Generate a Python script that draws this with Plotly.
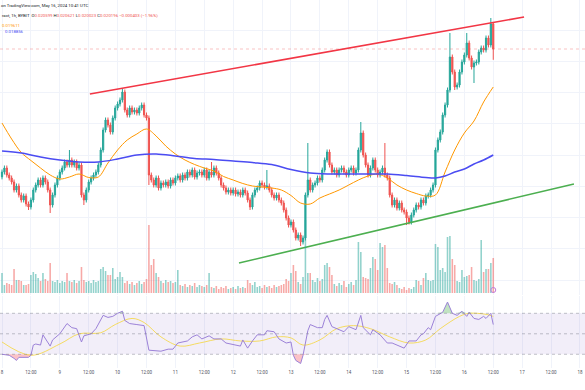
import plotly.graph_objects as go
import pandas as pd

# ---------------- data (hourly candles, BYBIT 1h) ----------------
start_time = "2024-05-08 00:00"
n_candles = 205
times = pd.date_range(start_time, periods=n_candles, freq="h")

open_first = 0.018150
close = [
 0.018228,0.018292,0.018180,0.018132,0.018068,0.017940,0.018004,0.017860,0.017780,0.017844,
 0.017716,0.017668,0.017780,0.017940,0.018020,0.018100,0.018020,0.018132,0.018068,0.017940,
 0.017700,0.017860,0.018020,0.018132,0.018228,0.018292,0.018388,0.018340,0.018420,0.018340,
 0.018388,0.018292,0.018340,0.017860,0.017780,0.017940,0.018068,0.018132,0.018180,0.018228,
 0.018340,0.018580,0.018900,0.019060,0.018980,0.018868,0.019092,0.019252,0.019316,0.019380,
 0.019508,0.019220,0.019140,0.019252,0.019188,0.019220,0.019172,0.019252,0.019300,0.019140,
 0.019092,0.018180,0.018100,0.018020,0.018132,0.017972,0.018052,0.018020,0.018068,0.018004,
 0.018100,0.018052,0.018132,0.018164,0.018100,0.018180,0.018132,0.018228,0.018180,0.018260,
 0.018148,0.018212,0.018228,0.018180,0.018260,0.018132,0.018228,0.018180,0.018292,0.018212,
 0.018132,0.018020,0.017972,0.017908,0.017940,0.017892,0.017940,0.017876,0.017908,0.017860,
 0.017940,0.017892,0.017780,0.017668,0.017860,0.017940,0.017972,0.018052,0.018020,0.017988,
 0.018004,0.017940,0.017860,0.017812,0.017860,0.017780,0.017732,0.017620,0.017492,0.017380,
 0.017428,0.017300,0.017172,0.017220,0.017108,0.017172,0.017860,0.018100,0.017940,0.018020,
 0.018052,0.018132,0.018100,0.018260,0.018420,0.018548,0.018340,0.018228,0.018260,0.018180,
 0.018260,0.018292,0.018228,0.018180,0.018260,0.018292,0.018212,0.018260,0.018580,0.018852,
 0.018500,0.018340,0.018180,0.018292,0.018420,0.018260,0.018180,0.018228,0.018292,0.018180,
 0.018132,0.017860,0.017700,0.017780,0.017652,0.017732,0.017620,0.017588,0.017492,0.017428,
 0.017540,0.017620,0.017700,0.017668,0.017780,0.017732,0.017844,0.017860,0.017940,0.018020,
 0.018580,0.018740,0.018868,0.019140,0.019300,0.019540,0.020068,0.019828,0.019588,0.019620,
 0.019828,0.019988,0.020100,0.020292,0.020052,0.019908,0.019972,0.019988,0.020148,0.020212,
 0.020180,0.020372,0.020260,0.020599,0.020196]
high = [
 0.018268,0.018332,0.018332,0.018220,0.018172,0.018108,0.018044,0.018044,0.017900,0.017884,
 0.017884,0.017756,0.017820,0.017980,0.018060,0.018140,0.018140,0.018172,0.018172,0.018108,
 0.017980,0.017900,0.018060,0.018172,0.018268,0.018332,0.018428,0.018428,0.018580,0.018460,
 0.018428,0.018428,0.018380,0.018380,0.017900,0.017980,0.018108,0.018172,0.018220,0.018268,
 0.018380,0.018620,0.018940,0.019100,0.019100,0.019020,0.019132,0.019292,0.019356,0.019420,
 0.019572,0.019548,0.019260,0.019292,0.019292,0.019260,0.019260,0.019292,0.019340,0.019340,
 0.019180,0.019132,0.018220,0.018140,0.018172,0.018172,0.018092,0.018092,0.018108,0.018108,
 0.018140,0.018140,0.018172,0.018204,0.018204,0.018220,0.018220,0.018268,0.018268,0.018300,
 0.018300,0.018252,0.018268,0.018268,0.018300,0.018300,0.018268,0.018388,0.018332,0.018332,
 0.018252,0.018172,0.018060,0.018012,0.017980,0.017980,0.017980,0.017980,0.017948,0.017948,
 0.017980,0.017980,0.017932,0.017820,0.017900,0.017980,0.018012,0.018092,0.018092,0.018060,
 0.018260,0.018044,0.017980,0.017900,0.017900,0.017900,0.017820,0.017772,0.017660,0.017532,
 0.017468,0.017468,0.017340,0.017260,0.017260,0.017212,0.017900,0.018692,0.018140,0.018060,
 0.018092,0.018172,0.018172,0.018300,0.018460,0.018588,0.018588,0.018380,0.018300,0.018300,
 0.018300,0.018332,0.018332,0.018268,0.018300,0.018332,0.018332,0.018300,0.018620,0.019028,
 0.018892,0.018540,0.018380,0.018332,0.018460,0.018460,0.018300,0.018268,0.018332,0.018692,
 0.018220,0.018172,0.017900,0.017820,0.017820,0.017772,0.017772,0.017660,0.017628,0.017532,
 0.017580,0.017660,0.017740,0.017740,0.017820,0.017820,0.017884,0.017900,0.017980,0.018060,
 0.018620,0.018780,0.018908,0.019180,0.019340,0.019580,0.020452,0.020108,0.019868,0.019660,
 0.019868,0.020028,0.020140,0.020452,0.020332,0.020092,0.020012,0.020028,0.020188,0.020252,
 0.020252,0.020412,0.020412,0.020692,0.020621]
low = [
 0.018110,0.018188,0.018140,0.018092,0.018028,0.017900,0.017900,0.017820,0.017740,0.017740,
 0.017676,0.017620,0.017628,0.017740,0.017900,0.017980,0.017980,0.017980,0.018028,0.017900,
 0.017572,0.017660,0.017820,0.017980,0.018092,0.018188,0.018252,0.018300,0.018300,0.018300,
 0.018300,0.018252,0.018252,0.017820,0.017700,0.017740,0.017900,0.018028,0.018092,0.018140,
 0.018188,0.018300,0.018540,0.018860,0.018940,0.018828,0.018828,0.019052,0.019212,0.019276,
 0.019340,0.019180,0.019100,0.019100,0.019148,0.019148,0.019132,0.019132,0.019212,0.019100,
 0.019052,0.018020,0.018060,0.017980,0.017980,0.017932,0.017932,0.017980,0.017980,0.017964,
 0.017964,0.018012,0.018012,0.018092,0.018060,0.018060,0.018092,0.018092,0.018140,0.018140,
 0.018108,0.018108,0.018172,0.018140,0.018140,0.018092,0.018092,0.018140,0.018140,0.018172,
 0.018092,0.017980,0.017932,0.017868,0.017868,0.017852,0.017852,0.017836,0.017836,0.017820,
 0.017820,0.017852,0.017740,0.017620,0.017628,0.017820,0.017900,0.017932,0.017980,0.017948,
 0.017948,0.017900,0.017820,0.017772,0.017772,0.017740,0.017692,0.017580,0.017452,0.017340,
 0.017340,0.017260,0.017132,0.017132,0.017044,0.017068,0.017132,0.017820,0.017900,0.017900,
 0.017980,0.018012,0.018060,0.018060,0.018220,0.018380,0.018300,0.018188,0.018188,0.018140,
 0.018140,0.018220,0.018188,0.018140,0.018140,0.018220,0.018172,0.018172,0.018220,0.018540,
 0.018460,0.018300,0.018140,0.018140,0.018252,0.018220,0.018140,0.018140,0.018188,0.018140,
 0.018092,0.017820,0.017660,0.017660,0.017612,0.017612,0.017580,0.017548,0.017380,0.017388,
 0.017388,0.017500,0.017580,0.017628,0.017628,0.017692,0.017692,0.017804,0.017820,0.017900,
 0.017980,0.018540,0.018700,0.018828,0.019100,0.019260,0.019500,0.019788,0.019540,0.019548,
 0.019580,0.019788,0.019948,0.020060,0.020012,0.019868,0.019652,0.019932,0.019948,0.020108,
 0.020140,0.020140,0.020220,0.020220,0.020023]
volume_m = [
 2.0,0.8,1.0,0.9,0.8,2.4,1.3,1.3,1.2,0.8,
 0.8,0.9,1.8,2.1,1.9,1.5,1.2,2.0,1.4,1.2,
 3.0,1.2,1.1,1.3,1.0,1.2,1.1,2.0,1.2,1.1,
 1.3,1.0,1.2,2.6,1.3,1.1,1.2,1.0,1.3,1.1,
 1.2,2.4,2.6,2.2,1.8,1.8,2.5,1.4,1.6,2.1,
 1.6,1.0,1.2,0.9,1.1,0.8,1.0,1.2,0.9,1.1,
 1.4,6.8,2.8,3.4,2.0,1.6,1.2,1.0,1.3,1.1,
 1.2,1.0,1.1,2.3,0.8,0.7,0.9,0.6,0.8,0.7,
 1.0,0.6,0.8,0.7,0.6,0.8,2.0,0.6,0.5,0.7,
 0.4,0.6,0.5,0.7,0.4,0.5,0.6,0.4,0.7,0.5,
 0.6,0.5,1.3,1.0,0.8,1.1,0.6,0.7,0.5,0.8,
 0.6,0.7,0.5,0.8,0.6,0.7,0.8,0.9,1.4,1.2,
 2.0,2.8,2.2,1.1,0.9,1.6,7.3,2.0,2.0,1.3,
 1.1,1.5,1.2,1.4,2.8,3.0,2.6,1.8,0.9,0.7,
 1.0,0.8,1.2,0.6,0.9,1.1,0.8,1.3,5.1,4.1,
 1.6,1.5,1.4,2.5,3.6,3.4,2.3,5.0,4.6,4.8,
 2.5,1.0,0.9,1.1,0.8,0.5,0.4,0.6,0.3,0.5,
 0.4,0.6,1.3,1.2,0.8,1.5,2.0,1.3,1.2,1.3,
 4.9,4.6,2.3,2.5,2.1,5.6,5.7,3.4,2.8,1.2,
 1.1,2.3,1.6,1.7,1.8,2.6,1.3,1.2,1.4,5.3,
 2.1,2.4,2.4,3.0,3.5]

# moving averages (candle index, price)
ma_fast_idx = list(range(0, 205, 4))
ma_fast = [0.019012,0.018756,0.018540,0.018412,0.018292,0.018180,0.018116,0.018148,0.018196,0.018140,
           0.018148,0.018372,0.018580,0.018740,0.018836,0.018916,0.018804,0.018644,0.018516,0.018420,
           0.018348,0.018292,0.018244,0.018156,0.018100,0.018044,0.018004,0.017988,0.017972,0.017940,
           0.017852,0.017732,0.017716,0.017812,0.017876,0.017940,0.018020,0.018100,0.018164,0.018196,
           0.018132,0.018020,0.017940,0.017884,0.017844,0.017860,0.018228,0.018580,0.018852,0.019044,
           0.019348,0.019588]
ma_slow_idx = list(range(0, 177, 8)) + [180, 184, 188, 192, 196, 200, 204]
ma_slow = [0.018564,0.018532,0.018468,0.018420,0.018388,0.018388,0.018436,0.018500,0.018516,0.018484,
           0.018444,0.018428,0.018404,0.018380,0.018348,0.018268,0.018212,0.018196,0.018196,0.018196,
           0.018196,0.018172,0.018140,0.018132,0.018164,0.018228,0.018276,0.018356,0.018420,0.018500]

rsi_idx = [0,3,5,6,7,11,12,13,14,16,17,20,21,24,27,29,31,33,34,37,39,42,44,46,48,50,51,53,56,59,
           61,64,66,69,71,73,77,79,81,83,86,88,91,93,97,99,100,102,104,106,109,110,113,115,118,120,
           121,122,124,125,127,128,131,133,134,135,137,139,142,144,147,149,150,153,154,157,160,162,
           165,167,169,172,174,175,177,178,180,183,185,187,189,191,193,194,196,198,200,201,203,204]
rsi_val = [30,29,26,24,27,27,29,39,40,39,49,38,44,50,60,56,55,42,48,50,55,68,66,67,70,72,63,60,59,58,
           34,33,33,35,35,41,43,47,49,45,48,45,45,41,39,38,44,36,43,49,49,53,52,45,41,42,
           29,24,21,29,53,59,56,56,64,68,57,55,52,57,54,68,56,49,54,49,41,41,
           38,36,43,43,49,50,56,54,67,71,81,70,68,72,67,71,65,64,67,65,70,59]
rsi_ma_idx = [0,12,24,32,41,47,54,59,66,74,82,91,99,107,114,120,125,132,139,146,153,161,169,176,182,190,194,201,204]
rsi_ma_val = [42,29,40,50,51,59,65,61,47,38,41,45,43,43,47,46,39,44,55,58,55,47,41,44,55,67,70,69,67]

# drawn trend lines (time, price)
res_t = ["2024-05-09 12:30", "2024-05-17 00:48"]
res_p = [0.019476, 0.020708]
sup_t = ["2024-05-12 02:25", "2024-05-17 21:30"]
sup_p = [0.016772, 0.018036]

tick_vals = pd.date_range("2024-05-08", "2024-05-18", freq="12h")
tick_text = ["8","12:00","9","12:00","10","12:00","11","12:00","12","12:00",
             "13","12:00","14","12:00","15","12:00","16","12:00","17","12:00","18"]

last = dict(o=0.020599, h=0.020621, l=0.020023, c=0.020196, chg="−0.000403 (−1.96%)")
ma_fast_label = "0.019611"
ma_slow_label = "0.018856"

# ---------------- figure ----------------
opens = [open_first] + close[:-1]
UP, DN = "#26a69a", "#ef5350"
vol_colors = ["rgba(38,166,154,0.5)" if c >= o else "rgba(239,83,80,0.5)" for o, c in zip(opens, close)]

x_start = pd.Timestamp("2024-05-07 23:10")
x_end = pd.Timestamp("2024-05-18 02:06")

H = 390
plot_h = 368
def py(px):
    return 1 - px / plot_h

fig = go.Figure()

fig.add_trace(go.Candlestick(
    x=times, open=opens, high=high, low=low, close=close,
    increasing=dict(line=dict(color=UP, width=1), fillcolor=UP),
    decreasing=dict(line=dict(color=DN, width=1), fillcolor=DN),
    whiskerwidth=0, xaxis="x", yaxis="y", showlegend=False, hoverinfo="skip"))

fig.add_trace(go.Scatter(x=times[ma_fast_idx], y=ma_fast, mode="lines",
                         line=dict(color="#FF9800", width=1, shape="spline"),
                         xaxis="x", yaxis="y", showlegend=False, hoverinfo="skip"))
fig.add_trace(go.Scatter(x=times[ma_slow_idx], y=ma_slow, mode="lines",
                         line=dict(color="#4B4CF2", width=1.5, shape="spline"),
                         xaxis="x", yaxis="y", showlegend=False, hoverinfo="skip"))
fig.add_trace(go.Scatter(x=pd.to_datetime(res_t), y=res_p, mode="lines",
                         line=dict(color="#F23645", width=1.6),
                         xaxis="x", yaxis="y", showlegend=False, hoverinfo="skip"))
fig.add_trace(go.Scatter(x=pd.to_datetime(sup_t), y=sup_p, mode="lines",
                         line=dict(color="#4CAF50", width=1.6),
                         xaxis="x", yaxis="y", showlegend=False, hoverinfo="skip"))

fig.add_trace(go.Bar(x=times, y=volume_m, marker=dict(color=vol_colors, line=dict(width=0)),
                     xaxis="x", yaxis="y3", showlegend=False, hoverinfo="skip"))
# small event marker at the last candle
fig.add_trace(go.Scatter(x=[times[-1]], y=[0.3], mode="markers",
                         marker=dict(symbol="circle-open", size=5, color="#c07ad8", line=dict(width=1)),
                         xaxis="x", yaxis="y3", showlegend=False, hoverinfo="skip"))

# RSI pane
band_x = [x_start, x_end]
fig.add_trace(go.Scatter(x=band_x, y=[30, 30], mode="lines", line=dict(width=0),
                         xaxis="x", yaxis="y2", showlegend=False, hoverinfo="skip"))
fig.add_trace(go.Scatter(x=band_x, y=[70, 70], mode="lines", line=dict(width=0),
                         fill="tonexty", fillcolor="rgba(126,87,194,0.10)",
                         xaxis="x", yaxis="y2", showlegend=False, hoverinfo="skip"))
rsi_t = times[rsi_idx]
fig.add_trace(go.Scatter(x=rsi_t, y=[70]*len(rsi_val), mode="lines", line=dict(width=0),
                         xaxis="x", yaxis="y2", showlegend=False, hoverinfo="skip"))
fig.add_trace(go.Scatter(x=rsi_t, y=[max(v, 70) for v in rsi_val], mode="lines", line=dict(width=0),
                         fill="tonexty", fillcolor="rgba(76,175,80,0.35)",
                         xaxis="x", yaxis="y2", showlegend=False, hoverinfo="skip"))
fig.add_trace(go.Scatter(x=rsi_t, y=[30]*len(rsi_val), mode="lines", line=dict(width=0),
                         xaxis="x", yaxis="y2", showlegend=False, hoverinfo="skip"))
fig.add_trace(go.Scatter(x=rsi_t, y=[min(v, 30) for v in rsi_val], mode="lines", line=dict(width=0),
                         fill="tonexty", fillcolor="rgba(242,54,69,0.30)",
                         xaxis="x", yaxis="y2", showlegend=False, hoverinfo="skip"))
fig.add_trace(go.Scatter(x=times[rsi_ma_idx], y=rsi_ma_val, mode="lines",
                         line=dict(color="rgba(245,215,70,0.85)", width=1, shape="spline"),
                         xaxis="x", yaxis="y2", showlegend=False, hoverinfo="skip"))
fig.add_trace(go.Scatter(x=rsi_t, y=rsi_val, mode="lines",
                         line=dict(color="#9C82D8", width=1),
                         xaxis="x", yaxis="y2", showlegend=False, hoverinfo="skip"))

shapes = []
for lvl in (70, 50, 30):
    shapes.append(dict(type="line", xref="paper", x0=0, x1=1, yref="y2", y0=lvl, y1=lvl,
                       line=dict(color="rgba(120,123,134,0.45)", width=1, dash="dot")))
shapes.append(dict(type="line", xref="paper", x0=0, x1=1, yref="y", y0=last["c"], y1=last["c"],
                   line=dict(color="rgba(239,83,80,0.35)", width=1, dash="dot")))

red = "#ef5350"
def sp(v):
    return f"<span style='color:{red}'>{v}</span>"
fs = 4.3
annotations = [
    dict(text="on TradingView.com, May 16, 2024 10:41 UTC", x=-1/585, y=py(5)),
    dict(text=("ract, 1h, BYBIT  O" + sp(f"{last['o']:.6f}") + " H" + sp(f"{last['h']:.6f}")
               + " L" + sp(f"{last['l']:.6f}") + " C" + sp(f"{last['c']:.6f}") + " " + sp(last["chg"])),
         x=0, y=py(15)),
    dict(text=f"<span style='color:#FF9800'>{ma_fast_label}</span>", x=0, y=py(25)),
    dict(text=f"<span style='color:#4B4CF2'>{ma_slow_label}</span>", x=3/585, y=py(32)),
]
for a in annotations:
    a.update(xref="paper", yref="paper", xanchor="left", yanchor="middle", showarrow=False,
             font=dict(size=fs, color="#131722", family="Roboto"))

fig.update_layout(
    width=585, height=H,
    margin=dict(l=0, r=0, t=0, b=H - plot_h),
    paper_bgcolor="white", plot_bgcolor="white",
    showlegend=False, bargap=0.35,
    xaxis=dict(type="date", range=[x_start, x_end], domain=[0, 1], anchor="y2",
               tickvals=tick_vals, ticktext=tick_text, showgrid=True, gridcolor="#f0f3fa",
               gridwidth=1, ticks="", showline=False, zeroline=False,
               tickfont=dict(size=4.5, color="#50535e", family="Roboto"),
               rangeslider=dict(visible=False)),
    yaxis=dict(domain=[1 - 295 / plot_h, 1], range=[0.016260, 0.020980],
               showticklabels=False, showgrid=True, gridcolor="#f0f3fa", dtick=0.0005, tick0=0,
               zeroline=False, ticks=""),
    yaxis3=dict(overlaying="y", range=[-0.2, 29.3], visible=False, showgrid=False),
    yaxis2=dict(domain=[0, 1 - 296 / plot_h], range=[16.6, 86.9], showticklabels=False,
                showgrid=False, zeroline=False, ticks=""),
    shapes=shapes, annotations=annotations,
    font=dict(family="Roboto"),
)

fig.write_html("out.html", config={"displayModeBar": False, "staticPlot": False},
               post_script="document.body.style.margin='0';document.body.style.padding='0';"
                           "document.documentElement.style.overflow='hidden';")
